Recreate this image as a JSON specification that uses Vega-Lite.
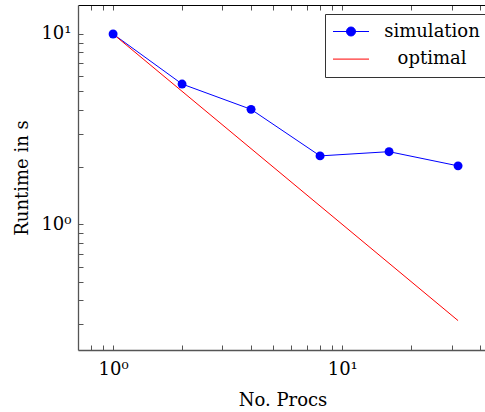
{
  "$schema": "https://vega.github.io/schema/vega-lite/v6.json",
  "width": 409,
  "height": 345,
  "autosize": "none",
  "padding": {"left": 78, "top": 5, "right": 0, "bottom": 62},
  "config": {
    "font": "DejaVu Serif",
    "view": {"stroke": null},
    "axis": {"grid": false, "labelFont": "DejaVu Serif", "titleFont": "DejaVu Serif", "labelFontSize": 18, "titleFontSize": 18, "titleFontWeight": "normal", "labelColor": "black", "titleColor": "black"}
  },
  "data": {
    "values": [
      {"series": "simulation", "procs": 1, "runtime": 10},
      {"series": "simulation", "procs": 2, "runtime": 5.46},
      {"series": "simulation", "procs": 4, "runtime": 4.02},
      {"series": "simulation", "procs": 8, "runtime": 2.29},
      {"series": "simulation", "procs": 16, "runtime": 2.41},
      {"series": "simulation", "procs": 32, "runtime": 2.03},
      {"series": "optimal", "procs": 1, "runtime": 10},
      {"series": "optimal", "procs": 32, "runtime": 0.3125}
    ]
  },
  "encoding": {
    "y": {
      "field": "runtime",
      "type": "quantitative",
      "scale": {"type": "log", "domain": [0.219, 14.2], "nice": false},
      "axis": {
        "title": "Runtime in s",
        "orient": "left",
        "values": [0.3, 0.4, 0.5, 0.6, 0.7, 0.8, 0.9, 1, 2, 3, 4, 5, 6, 7, 8, 9, 10],
        "labelExpr": "datum.value == 1 ? '10⁰' : datum.value == 10 ? '10¹' : ''",
        "tickSize": -5,
        "tickColor": "#555555",
        "domainColor": "#555555",
        "domainWidth": 1.3,
        "labelPadding": 12,
        "titlePadding": 9
      }
    }
  },
  "layer": [
    {
      "mark": {"type": "line", "strokeWidth": 1},
      "encoding": {
        "x": {
          "field": "procs",
          "type": "quantitative",
          "scale": {"type": "log", "domain": [0.703, 42.8], "nice": false},
          "axis": {
            "title": "No. Procs",
            "orient": "bottom",
            "values": [0.8, 0.9, 1, 2, 3, 4, 5, 6, 7, 8, 9, 10, 20, 30, 40],
            "labelExpr": "datum.value == 1 ? '10⁰' : datum.value == 10 ? '10¹' : ''",
            "tickSize": -5,
            "tickColor": "#555555",
            "domainColor": "#555555",
            "domainWidth": 1.3,
            "labelPadding": 15,
            "titlePadding": 13
          }
        },
        "color": {
          "field": "series",
          "type": "nominal",
          "scale": {"domain": ["simulation", "optimal"], "range": ["#0000ff", "#ff0000"]},
          "legend": {
            "title": null,
            "orient": "none",
            "legendX": 247,
            "legendY": 9,
            "padding": 8,
            "strokeColor": "#333333",
            "fillColor": "white",
            "labelFontSize": 18,
            "labelFont": "DejaVu Serif",
            "labelColor": "black",
            "labelAlign": "center",
            "labelOffset": 71.5,
            "symbolOffset": 8.5,
            "rowPadding": 8.6,
            "symbolType": "M-2,0L2,0M-0.5,0A0.5,0.5,0,1,1,0.5,0A0.5,0.5,0,1,1,-0.5,0Z",
            "symbolSize": 324,
            "symbolStrokeWidth": 1,
            "encode": {
              "symbols": {
                "update": {
                  "shape": [{"test": "datum.value === 'optimal'", "value": "M-2,0L2,0"}, {"value": "M-2,0L2,0M-0.5,0A0.5,0.5,0,1,1,0.5,0A0.5,0.5,0,1,1,-0.5,0Z"}],
                  "fill": [{"test": "datum.value === 'optimal'", "value": "transparent"}, {"scale": "color", "field": "value"}],
                  "stroke": {"scale": "color", "field": "value"},
                  "strokeWidth": {"value": 1}
                }
              }
            }
          }
        }
      }
    },
    {
      "transform": [{"filter": "datum.series === 'simulation'"}],
      "mark": {"type": "point", "filled": true, "size": 80, "opacity": 1, "color": "#0000ff"},
      "encoding": {
        "x": {
          "field": "procs",
          "type": "quantitative",
          "axis": {
            "title": null,
            "orient": "top",
            "values": [0.8, 0.9, 1, 2, 3, 4, 5, 6, 7, 8, 9, 10, 20, 30, 40],
            "labels": false,
            "tickSize": -5,
            "tickColor": "#555555",
            "domainColor": "black",
            "domainWidth": 1
          }
        }
      }
    }
  ],
  "resolve": {"axis": {"x": "independent"}}
}
